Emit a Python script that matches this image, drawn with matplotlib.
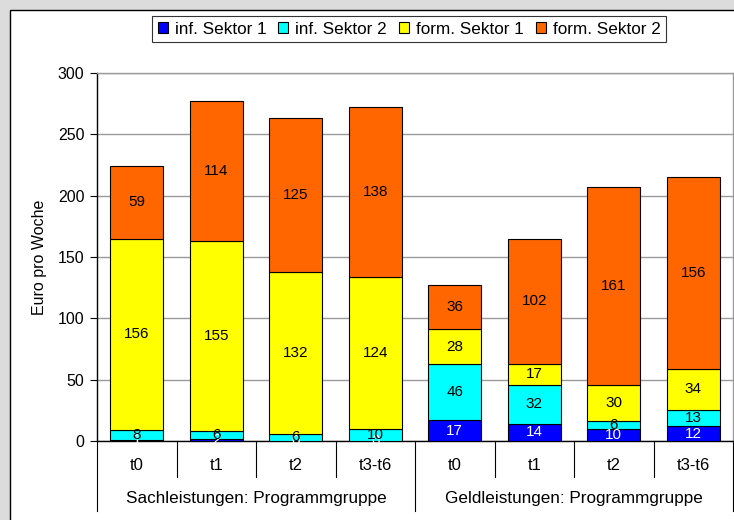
import matplotlib.pyplot as plt
from matplotlib.patches import Rectangle
import numpy as np

plt.rcParams['font.family'] = ['Liberation Sans', 'DejaVu Sans']

# Daten
perioden = ['t0', 't1', 't2', 't3-t6', 't0', 't1', 't2', 't3-t6']
gruppen = ['Sachleistungen: Programmgruppe', 'Geldleistungen: Programmgruppe']
serien = ['inf. Sektor 1', 'inf. Sektor 2', 'form. Sektor 1', 'form. Sektor 2']
inf_sektor1 = [1, 2, 0, 0, 17, 14, 10, 12]
inf_sektor2 = [8, 6, 6, 10, 46, 32, 6, 13]
form_sektor1 = [156, 155, 132, 124, 28, 17, 30, 34]
form_sektor2 = [59, 114, 125, 138, 36, 102, 161, 156]
farben = ['#0000FF', '#00FFFF', '#FFFF00', '#FF6600']
textfarben = ['white', 'black', 'black', 'black']

fig = plt.figure(figsize=(7.34, 5.2), dpi=100)
fig.patch.set_facecolor('#DCDCDC')
fig.patches.append(Rectangle((10 / 734, -0.01), 1.0, 1 - 10 / 520 + 0.01,
                             transform=fig.transFigure, facecolor='white',
                             edgecolor='black', linewidth=1, zorder=-10))

ax = fig.add_axes([97 / 734, 1 - 441 / 520, 636 / 734, 368 / 520])
ax.set_facecolor('white')
x = np.arange(len(perioden))
bottom = np.zeros(len(perioden))
for name, werte, farbe, tf in zip(serien, [inf_sektor1, inf_sektor2, form_sektor1, form_sektor2],
                                  farben, textfarben):
    werte = np.array(werte, dtype=float)
    ax.bar(x, werte, bottom=bottom, width=0.67, color=farbe, edgecolor='black',
           linewidth=0.8, label=name, zorder=3)
    for xi, b, w in zip(x, bottom, werte):
        ax.text(xi, b + w / 2, f'{int(w)}', ha='center', va='center',
                fontsize=11, color=tf, zorder=4)
    bottom += werte

ax.set_xlim(-0.5, len(perioden) - 0.5)
ax.set_ylim(0, 300)
ax.set_yticks(range(0, 301, 50))
ax.yaxis.grid(True, color='#9A9A9A', linewidth=1)
ax.set_axisbelow(True)
ax.tick_params(axis='y', length=5, width=0.8, labelsize=11.5, pad=4)
ax.set_ylabel('Euro pro Woche', fontsize=11.5, labelpad=8)

ax.set_xticks(x)
ax.set_xticklabels(perioden, fontsize=12)
ax.tick_params(axis='x', length=0, pad=12)

for s in ['left', 'bottom']:
    ax.spines[s].set_color('black')
    ax.spines[s].set_linewidth(1)
for s in ['top', 'right']:
    ax.spines[s].set_color('#9A9A9A')
    ax.spines[s].set_linewidth(1)

# Trennlinien unter der Achse
trans = ax.get_xaxis_transform()
for i in range(len(perioden) + 1):
    pos = i - 0.5
    lang = i in (0, 4, 8)
    ax.plot([pos, pos], [0, -0.19 if lang else -0.097], color='black',
            linewidth=0.8, transform=trans, clip_on=False)

# Gruppenbeschriftung
for g, name in enumerate(gruppen):
    ax.text(g * 4 + 1.5, -0.155, name, ha='center', va='center', fontsize=12.3,
            transform=trans)

leg = fig.legend(loc='center', bbox_to_anchor=(409 / 734, 1 - 29 / 520), ncol=4,
                 fontsize=12.3, frameon=True, fancybox=False, handlelength=0.6,
                 handleheight=0.6, handletextpad=0.4, columnspacing=0.7,
                 borderpad=0.3, borderaxespad=0)
leg.get_frame().set_edgecolor('black')
leg.get_frame().set_linewidth(0.8)

fig.savefig('out.png', dpi=100)
